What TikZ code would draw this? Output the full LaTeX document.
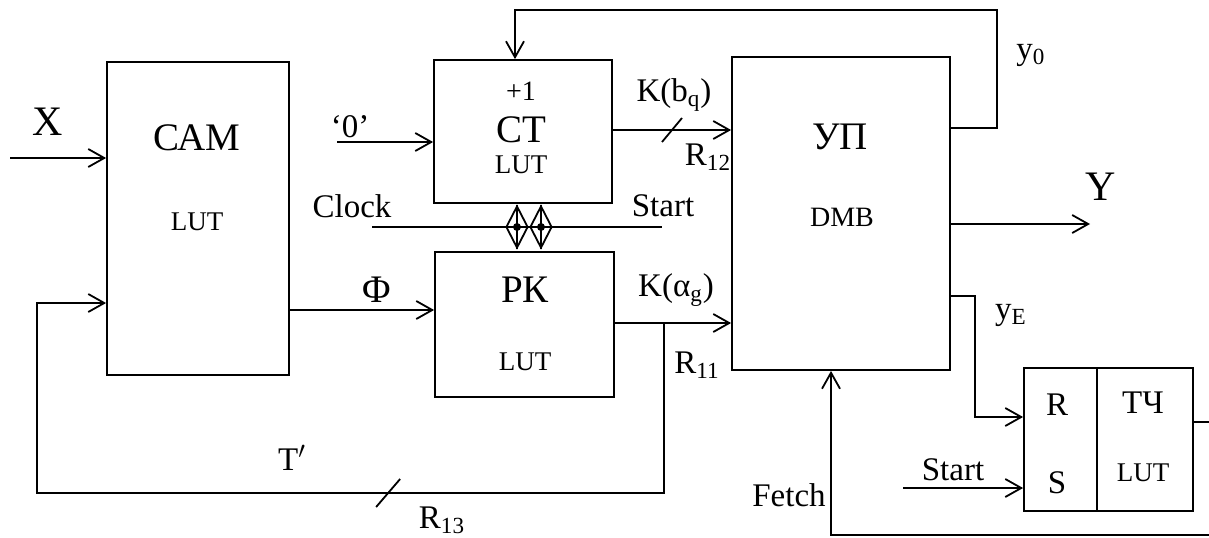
\documentclass[tikz,border=0pt]{standalone}
\usepackage{fontspec}
\setmainfont{Liberation Serif}
\usetikzlibrary{arrows.meta, shapes.geometric, calc, fit}
\newcommand{\blk}[3]{%
  \node[draw, rectangle, inner sep=0pt, fit={#2 #3}] (#1) {};
}
\newcommand{\fsz}[1]{\fontsize{#1}{#1}\selectfont}

\begin{document}
\begin{tikzpicture}[x=0.5pt, y=-0.5pt, line width=0.9pt,
      >={Straight Barb[length=8pt,width=9pt]},
      txt/.style={inner sep=0pt},
      xy/.style={txt, font=\fsz{21}},
      big/.style={txt, font=\fsz{19.5}},
      lbl/.style={txt, font=\fsz{16.5}},
      lut/.style={txt, font=\fsz{13.5}},
      sml/.style={txt, font=\fsz{14}},
      dmd/.style={draw, diamond, inner sep=0pt, minimum width=11pt,
                  minimum height=21pt}]
    \useasboundingbox (0,0) rectangle (1209,537);
    \clip (0,0) rectangle (1209,537);
    % blocks
    \blk{cam}{(107,62)}{(289,375)}
    \blk{ct}{(434,60)}{(612,203)}
    \blk{pk}{(435,252)}{(614,397)}
    \blk{up}{(732,57)}{(950,370)}
    \blk{rs}{(1024,368)}{(1097,511)}
    \blk{tch}{(1097,368)}{(1193,511)}
    \node[big] (camt) at (197,138) {САМ};
    \node[lut] (caml) at (197,222) {LUT};
    \node[sml] (ctp) at (521,91) {+1};
    \node[big] (ctt) at (521,130) {СТ};
    \node[lut] (ctl) at (521,165) {LUT};
    \node[big] (pkt) at (525,290) {РК};
    \node[lut] (pkl) at (525,362) {LUT};
    \node[big] (upt) at (840,137) {УП};
    \node[sml] (upl) at (842,217) {DMB};
    \node[lbl] (rt) at (1057,405) {R};
    \node[lbl] (st) at (1057,483) {S};
    \node[lbl] (tcht) at (1143,403) {ТЧ};
    \node[lut] (tchl) at (1143,473) {LUT};
    % inputs and outputs
    \coordinate (xin) at (10,158);
    \coordinate (zin) at (337,142);
    \draw[->] (xin) -- (xin -| cam.west);
    \node[xy] (xl) at (48,122) {X};
    \draw[->] (zin) -- (zin -| ct.west);
    \node[lbl] (zl) at (350,127) {‘0’};
    \draw[->] (cam.east |- 0,310) -- (pk.west |- 0,310);
    \node[big] (phil) at (377,290) {Φ};
    \draw[->] (ct.east |- 0,130) -- coordinate[pos=0.5] (s12) (up.west |- 0,130);
    \draw ($(s12)+(-10,12)$) -- ($(s12)+(10,-12)$);
    \node[lbl] (kb) at (674,95) {K(b\textsubscript{q})};
    \node[lbl] (r12) at (708,157) {R\textsubscript{12}};
    \draw[->] (pk.east |- 0,323) -- (up.west |- 0,323);
    \coordinate (br) at (664,323);
    \node[lbl] (ka) at (676,290) {K(α\textsubscript{g})};
    \node[lbl] (r11) at (697,365) {R\textsubscript{11}};
    % feedback T'
    \draw[->] (br) -- (br |- 0,493) -- coordinate[pos=0.44] (s13) (37,493)
      |- (cam.west |- 0,303);
    \draw ($(s13)+(-12,14)$) -- ($(s13)+(12,-14)$);
    \node[lbl] (tl) at (292,458) {T$'$};
    \node[lbl] (r13) at (442,520) {R\textsubscript{13}};
    % clock and start
    \coordinate (clk) at (372,227);
    \coordinate (stt) at (662,227);
    \draw (clk) -- (stt);
    \node[lbl] (clkl) at (352,206) {Clock};
    \node[lbl] (sttl) at (663,206) {Start};
    \foreach \i/\x in {1/517, 2/541} {
      \node[dmd] (d\i) at (\x,227) {};
      \draw (d\i.north) -- (d\i.south);
      \fill (d\i.center) circle (4);
    }
    % outputs of UP
    \draw[->] (up.east |- 0,128) -| (997,10) -| (ct.north -| 515,0);
    \node[lbl] (y0) at (1031,55) {y\textsubscript{0}};
    \coordinate (yout) at (1090,224);
    \draw[->] (up.east |- 0,224) -- (yout);
    \node[xy] (yl) at (1101,187) {Y};
    \draw[->] (up.east |- 0,296) -- (975,296) |- (rs.west |- 0,417);
    \node[lbl] (ye) at (1011,315) {y\textsubscript{E}};
    \coordinate (sin) at (903,488);
    \draw[->] (sin) -- (sin -| rs.west);
    \node[lbl] (sinl) at (953,470) {Start};
    \draw[->] (tch.east |- 0,422) -- (1230,422) |- (831,535)
      -- (up.south -| 831,0);
    \node[lbl] (fl) at (789,495) {Fetch};
\end{tikzpicture}
\end{document}
